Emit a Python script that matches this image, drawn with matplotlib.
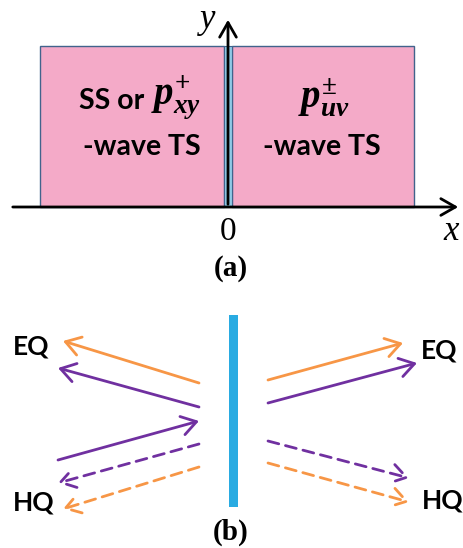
import matplotlib
matplotlib.use("Agg")
import matplotlib.pyplot as plt
from matplotlib.patches import Rectangle, FancyArrowPatch

plt.rcParams['mathtext.fontset'] = 'custom'
plt.rcParams['mathtext.it'] = 'Liberation Serif:italic:bold'
plt.rcParams['mathtext.rm'] = 'Liberation Serif:bold'

W, H = 464, 548
# Panel (a) geometry (pixel coords, y downward)
regions = ["left", "right"]
region_x = [(40, 224), (232, 414)]
region_top, region_bottom = 46, 207
# Panel (b) arrows: (x0, y0, x1, y1, color, dashed)
arrow_x0 = [199, 199, 58, 199, 199, 268, 268, 268, 268]
arrow_y0 = [383, 407, 460, 444, 467, 380, 403, 441, 463]
arrow_x1 = [63, 58, 199, 58, 63, 403, 417, 409, 409]
arrow_y1 = [341, 368, 421, 483, 509, 343, 363, 478, 502]
arrow_col = ["orange", "purple", "purple", "purple", "orange",
             "orange", "purple", "purple", "orange"]
arrow_dash = [False, False, False, True, True, False, False, True, True]
colors = {"orange": "#F79646", "purple": "#7030A0"}

fig = plt.figure(figsize=(W/100, H/100), dpi=100)
ax = fig.add_axes([0, 0, 1, 1])
ax.set_xlim(0, W)
ax.set_ylim(H, 0)
ax.axis('off')

pink = "#F4AAC8"
for (x0, x1) in region_x:
    ax.add_patch(Rectangle((x0, region_top), x1 - x0, region_bottom - region_top,
                           facecolor=pink, edgecolor="#41638C", lw=1.0))
# thin interface strip
ax.add_patch(Rectangle((224, region_top), 8, region_bottom - region_top,
                       facecolor="#8FC9E6", edgecolor="#41638C", lw=0.8))

# axes arrows
ax.add_patch(FancyArrowPatch((10, 207), (461, 207), arrowstyle='->,head_length=7,head_width=4',
                             color='black', lw=2, mutation_scale=1.5))
ax.add_patch(FancyArrowPatch((228, 207), (228, 17), arrowstyle='->,head_length=7,head_width=4',
                             color='black', lw=2, mutation_scale=1.5))

serif = 'Liberation Serif'
ax.text(208, 20, 'y', fontsize=25, family=serif, style='italic', ha='center', va='center')
ax.text(451, 232, 'x', fontsize=25, family=serif, style='italic', ha='center', va='center')
ax.text(228, 232, '0', fontsize=24, family=serif, ha='center', va='center')
ax.text(231, 268, '(a)', fontsize=21, family=serif, weight='bold', ha='center', va='center')

sans = 'Lato'
ax.text(79, 101, 'SS or ', fontsize=20.5, family=sans, weight='bold', ha='left', va='center')
ax.text(151, 98, r'$p_{xy}^{+}$', fontsize=28, ha='left', va='center')
ax.text(142, 147, '-wave TS', fontsize=20.5, family=sans, weight='bold', ha='center', va='center')
ax.text(324, 98, r'$p_{uv}^{\pm}$', fontsize=28, ha='center', va='center')
ax.text(322, 147, '-wave TS', fontsize=20.5, family=sans, weight='bold', ha='center', va='center')

# Panel (b)
ax.add_patch(Rectangle((229, 315), 9, 192, facecolor="#29ABE2", edgecolor='none'))
for x0, y0, x1, y1, c, d in zip(arrow_x0, arrow_y0, arrow_x1, arrow_y1, arrow_col, arrow_dash):
    ax.add_patch(FancyArrowPatch((x0, y0), (x1, y1),
                                 arrowstyle='->,head_length=7,head_width=4.5',
                                 color=colors[c], lw=2, linestyle=(0, (4, 2.5)) if d else '-',
                                 mutation_scale=1.5, shrinkA=0, shrinkB=0))

ax.text(31, 347, 'EQ', fontsize=19, family=sans, weight='bold', ha='center', va='center')
ax.text(34, 502, 'HQ', fontsize=19, family=sans, weight='bold', ha='center', va='center')
ax.text(439, 350, 'EQ', fontsize=19, family=sans, weight='bold', ha='center', va='center')
ax.text(443, 500, 'HQ', fontsize=19, family=sans, weight='bold', ha='center', va='center')
ax.text(231, 532, '(b)', fontsize=21, family=serif, weight='bold', ha='center', va='center')

fig.savefig('out.png', dpi=100)
